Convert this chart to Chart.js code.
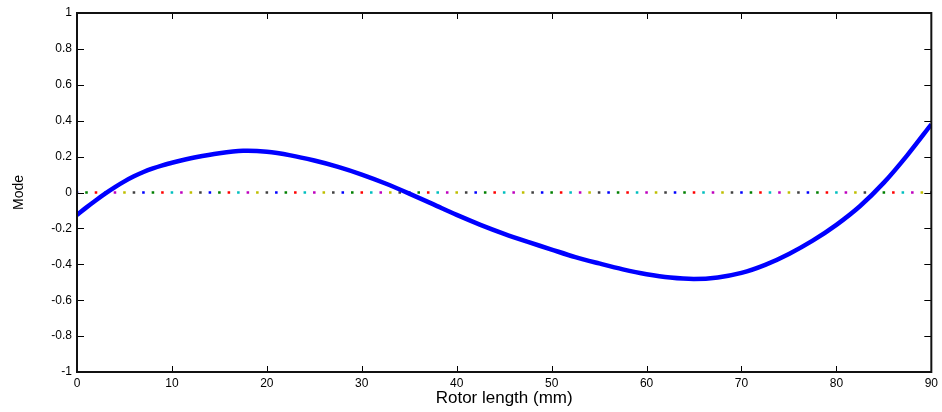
<!DOCTYPE html>
<html>
<head>
<meta charset="utf-8">
<script src="https://cdn.jsdelivr.net/npm/chart.js@4"></script>
<style>
  body { margin: 0; background: #fff; }
  #wrap { width: 942px; height: 412px; }
</style>
</head>
<body>
<div id="wrap"><canvas id="mode-chart" width="942" height="412"></canvas></div>
<script>
// Forma del modo a lo largo del rotor
const rotorPos = [0, 1, 2, 3, 4, 5, 6, 7, 8, 9, 10, 12.5, 15, 17.5, 20, 22.5, 25, 27.5, 30, 32.5, 35, 37.5, 40,
                  42.5, 45, 47.5, 50, 52.5, 55, 57.5, 60, 62.5, 65, 67.5, 70, 72.5, 75, 77.5, 80, 82.5, 85, 87.5, 90];
const modeVal  = [-0.125, -0.083, -0.043, -0.005, 0.03, 0.062, 0.09, 0.114, 0.134, 0.151, 0.166, 0.196, 0.219, 0.232, 0.227,
                  0.207, 0.178, 0.143, 0.1, 0.05, -0.006, -0.065, -0.125, -0.18, -0.23, -0.275, -0.318, -0.36, -0.395,
                  -0.428, -0.455, -0.474, -0.482, -0.473, -0.448, -0.403, -0.342, -0.268, -0.18, -0.075, 0.055, 0.21, 0.38];

// Línea de cero punteada (un punto por mm)
const zeroLineX = [
  0, 1, 2, 3, 4, 5, 6, 7, 8, 9, 10, 11, 12, 13, 14, 15, 16, 17, 18, 19,
  20, 21, 22, 23, 24, 25, 26, 27, 28, 29, 30, 31, 32, 33, 34, 35, 36, 37, 38, 39,
  40, 41, 42, 43, 44, 45, 46, 47, 48, 49, 50, 51, 52, 53, 54, 55, 56, 57, 58, 59,
  60, 61, 62, 63, 64, 65, 66, 67, 68, 69, 70, 71, 72, 73, 74, 75, 76, 77, 78, 79,
  80, 81, 82, 83, 84, 85, 86, 87, 88, 89, 90
];
const dotColors = ['#0000ff', '#008000', '#ff0000', '#00bfbf', '#bf00bf', '#bfbf00', '#404040'];

// Ticks
const xTicks = [0, 10, 20, 30, 40, 50, 60, 70, 80, 90];
const yTicks = [-1, -0.8, -0.6, -0.4, -0.2, 0, 0.2, 0.4, 0.6, 0.8, 1];

const FONT = 'Liberation Sans, Arial, sans-serif';

// Caja y marcas hacia dentro (estilo MATLAB)
const boxPlugin = {
  id: 'box',
  afterDatasetsDraw(chart) {
    const { ctx, chartArea: a, scales: { x, y } } = chart;
    ctx.save();
    ctx.strokeStyle = '#000';
    ctx.lineWidth = 1;
    ctx.beginPath();
    x.ticks.forEach(t => {
      const px = Math.round(x.getPixelForValue(t.value)) + 0.5;
      ctx.moveTo(px, a.bottom); ctx.lineTo(px, a.bottom - 6);
      ctx.moveTo(px, a.top); ctx.lineTo(px, a.top + 6);
    });
    y.ticks.forEach(t => {
      const py = Math.round(y.getPixelForValue(t.value)) + 0.5;
      ctx.moveTo(a.left, py); ctx.lineTo(a.left + 7, py);
      ctx.moveTo(a.right, py); ctx.lineTo(a.right - 7, py);
    });
    ctx.stroke();
    ctx.lineWidth = 2;
    ctx.strokeStyle = '#111';
    ctx.strokeRect(a.left, a.top, a.right - a.left, a.bottom - a.top);
    ctx.restore();
  }
};

const ctx = document.getElementById('mode-chart').getContext('2d');
new Chart(ctx, {
  type: 'line',
  data: {
    datasets: [{
      label: 'Mode',
      data: rotorPos.map((x, i) => ({ x, y: modeVal[i] })),
      borderColor: '#0000ff',
      borderWidth: 4.5,
      pointRadius: 0,
      tension: 0.3,
      order: 0
    }, {
      label: 'zero',
      data: zeroLineX.map(x => ({ x, y: 0 })),
      showLine: false,
      pointStyle: 'rect',
      pointRadius: 1.8,
      pointBorderWidth: 0,
      pointBackgroundColor: c => dotColors[c.dataIndex % dotColors.length],
      order: 1
    }]
  },
  plugins: [boxPlugin],
  options: {
    responsive: false,
    animation: false,
    layout: { padding: { top: 13, right: 8, left: 0, bottom: 0 } },
    plugins: { legend: { display: false }, tooltip: { enabled: false } },
    scales: {
      x: {
        type: 'linear',
        min: 0, max: 90,
        afterFit: s => { s.height = 40; },
        afterBuildTicks: s => { s.ticks = xTicks.map(v => ({ value: v })); },
        grid: { display: false, drawTicks: false },
        border: { display: false },
        ticks: {
          autoSkip: false, maxRotation: 0, padding: 4,
          color: '#000',
          font: { family: FONT, size: 12 }
        },
        title: {
          display: true, text: 'Rotor length (mm)', color: '#000',
          padding: 3,
          font: { family: FONT, size: 17 }
        }
      },
      y: {
        min: -1, max: 1,
        afterFit: s => { s.width = 77; },
        afterBuildTicks: s => { s.ticks = yTicks.map(v => ({ value: v })); },
        grid: { display: false, drawTicks: false },
        border: { display: false },
        ticks: {
          padding: 5,
          color: '#000',
          font: { family: FONT, size: 12 },
          callback: v => String(Number(v.toFixed(1)))
        },
        title: {
          display: true, text: 'Mode', color: '#000',
          padding: 11,
          font: { family: FONT, size: 14 }
        }
      }
    }
  }
});
</script>
</body>
</html>
